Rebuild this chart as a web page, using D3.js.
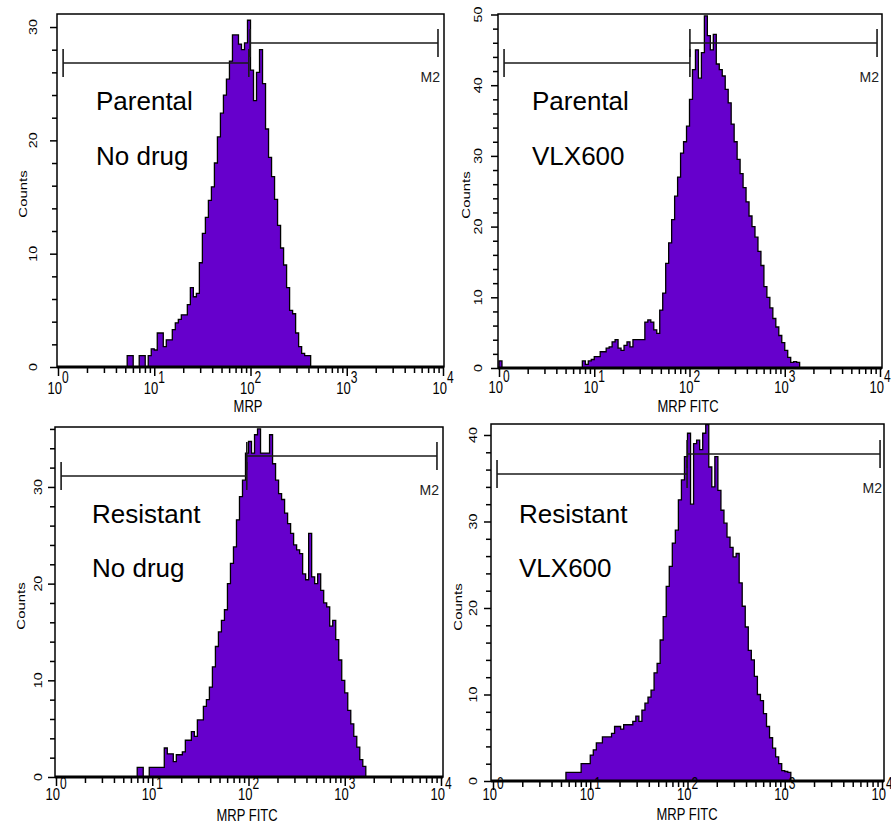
<!DOCTYPE html>
<html>
<head>
<meta charset="utf-8">
<script src="https://cdn.jsdelivr.net/npm/d3@7"></script>
<style>
  body { margin: 0; background: #fff; }
  svg { display: block; }
  text { font-family: Arial, "Liberation Sans", sans-serif; fill: #000; }
</style>
</head>
<body>
<div id="chart"></div>
<script>
// flow cytometry histograms, 32 channels per decade on a 10^0..10^4 log axis
var BINS_PER_DECADE = 32;
var decades = [0, 1, 2, 3, 4];

var titles = [["Parental", "No drug"], ["Parental", "VLX600"], ["Resistant", "No drug"], ["Resistant", "VLX600"]];
var xTitles = ["MRP", "MRP FITC", "MRP FITC", "MRP FITC"];
var yMaxTick = [30, 50, 30, 40];

// first channel index of each counts array
var firstBin = [23, 0, 27, 24];

var counts1 = [1, 1, 0, 0, 1, 1, 0, 1, 1.6, 1.5, 3, 3, 1.8, 2.4, 2.4, 3.3, 3.9, 4.2, 4.6, 4.6,
  5.5, 7, 6.2, 6.5, 9.2, 11.8, 13.2, 14.7, 15.9, 18, 20.3, 22.4, 24, 25.4, 27, 29.3, 29.3, 28.5,
  28, 28.6, 30.6, 26.2, 23.5, 26, 28, 25, 21, 18.5, 16.8, 14.8, 12.5, 10.5, 9, 7, 5, 4.7, 3,
  1.8, 1.2, 1, 1];

var counts2 = [1, 0, 0, 0, 0, 0, 0, 0, 0, 0, 0, 0, 0, 0, 0, 0, 0, 0, 0, 0, 0, 0, 0, 0, 0, 0, 0, 0,
  1, 0.5, 1, 1.2, 1.6, 1.6, 2.3, 2.3, 2.8, 3, 3.7, 4, 2.8, 2.5, 3.2, 3.7, 3, 4, 4, 4, 4, 6.5,
  6.8, 6.5, 5.4, 4.9, 8.2, 10.6, 14.8, 17.7, 21, 24.3, 27, 30.4, 32, 34.2, 38, 42.2, 45, 41,
  44.6, 49.8, 47, 45, 47.2, 43, 42.2, 41.3, 39.4, 37.5, 34.5, 32, 29.5, 27.5, 25.5, 23.5, 21.5,
  20, 18.5, 16.5, 14.5, 11.5, 10, 8.5, 7, 5.8, 4.6, 3.6, 2.5, 1.5, 0.8, 0.9, 0.8];

var counts3 = [1, 1, 0, 0, 1, 1, 1, 1, 1, 3, 2.4, 2.4, 1.6, 2.3, 2.3, 2.6, 3.8, 3.8, 4.7, 4.2,
  5.9, 5.9, 7.3, 8, 9.3, 11.4, 13.5, 15, 16.2, 17.3, 20, 22.1, 23.8, 26.6, 29, 30.7, 33.5,
  34.7, 33.5, 35.4, 36, 33.5, 33.5, 33.5, 35.4, 32.4, 30.7, 29.3, 28.7, 27.3, 26.2, 25.2, 24,
  23.5, 23.1, 21, 20.4, 25.2, 20.7, 20, 21, 19.3, 18, 17.6, 15.6, 16.2, 14.2, 12.1, 10, 8.7,
  6.9, 5.5, 4.2, 3.1, 1.8, 1.1];

var counts4 = [1, 1, 1, 1, 1, 2, 2, 2, 3, 3.6, 4.4, 4.4, 5.1, 5.1, 5.1, 5.5, 6.3, 6.3, 6, 6.5,
  6.5, 6.5, 6.9, 7.5, 6.9, 8.2, 9, 9.7, 10.5, 12.5, 13.6, 16.3, 19, 22.5, 24.8, 27.5, 29, 32.5,
  34.8, 37.5, 40.2, 32, 39, 39.4, 38.3, 40.2, 41.2, 36.3, 34, 37.5, 33.6, 31.3, 29.8, 28.2, 27,
  25.9, 26.3, 22.9, 20.2, 17.8, 15.1, 14, 12.1, 10, 9.3, 7.8, 6.3, 5, 3.8, 2.8, 2, 1.2, 1.1, 1];

var allCounts = [counts1, counts2, counts3, counts4];

// marker gates M1 / M2 (fluorescence values)
var gatesM1 = [[1.13, 96], [1.13, 101], [1.13, 96], [1.1, 99]];
var gatesM2 = [[99, 8870], [101, 9310], [96, 9080], [99, 9550]];

// panel placement on the page
var panels = [
  { x0: 58, x1: 443, y0: 367, top: 14, yTop: 31.15, boxL: 57, boxR: 444, yLab: 20, cx: 27, cy: 194,
    tickBase: 394, xtX: 248, xtY: 412, tX: 96, tY: [110, 165], m1: 63, m2: 43 },
  { x0: 499, x1: 880, y0: 368, top: 14, yTop: 50.07, boxL: 498, boxR: 882, yLab: 16, cx: 470, cy: 195,
    tickBase: 393, xtX: 688, xtY: 412, tX: 532, tY: [110, 165], m1: 63, m2: 43 },
  { x0: 56, x1: 441, y0: 777, top: 427, yTop: 36.2, boxL: 55, boxR: 443, yLab: 13, cx: 25, cy: 606,
    tickBase: 800, xtX: 247, xtY: 821, tX: 92, tY: [523, 577], m1: 476, m2: 456 },
  { x0: 493, x1: 882, y0: 781, top: 424, yTop: 41.27, boxL: 491, boxR: 884, yLab: 14, cx: 462, cy: 607,
    tickBase: 800, xtX: 687, xtY: 820, tX: 519, tY: [523, 577], m1: 474, m2: 454 }
];

var svg = d3.select("#chart").append("svg")
            .attr("width", 891)
            .attr("height", 825);

svg.append("rect").attr("width", 891).attr("height", 825).attr("fill", "#fff");

var xTickVals = [];
decades.slice(0, 4).forEach(function(d) {
    for (var m = 1; m < 10; m++) xTickVals.push(m * Math.pow(10, d));
});
xTickVals.push(1e4);

function isMajor(v) {
    return Math.abs(Math.log10(v) - Math.round(Math.log10(v))) < 1e-9;
}

panels.forEach(function(p, i) {
    var x = d3.scaleLog().domain([1, 1e4]).range([p.x0, p.x1]);
    var y = d3.scaleLinear().domain([0, p.yTop]).range([p.y0, p.top]);
    var g = svg.append("g");

    // histogram bins -> step outline
    var start = firstBin[i];
    var pts = [{ v: Math.pow(10, start / BINS_PER_DECADE), c: 0 }];
    allCounts[i].forEach(function(c, j) {
        pts.push({ v: Math.pow(10, (start + j) / BINS_PER_DECADE), c: c });
    });
    pts.push({ v: Math.pow(10, (start + allCounts[i].length) / BINS_PER_DECADE), c: 0 });

    var area = d3.area()
                 .x(function(d) { return x(d.v); })
                 .y0(y(0))
                 .y1(function(d) { return y(d.c); })
                 .curve(d3.curveStepAfter);
    var line = d3.line()
                 .x(function(d) { return x(d.v); })
                 .y(function(d) { return y(d.c); })
                 .curve(d3.curveStepAfter);

    g.append("path").datum(pts).attr("d", area).attr("fill", "#6600cc");
    g.append("path").datum(pts).attr("d", line)
     .attr("fill", "none").attr("stroke", "#000").attr("stroke-width", 1.3);

    // frame
    g.append("rect")
     .attr("x", p.boxL).attr("y", p.top)
     .attr("width", p.boxR - p.boxL).attr("height", p.y0 - p.top)
     .attr("fill", "none").attr("stroke", "#000").attr("stroke-width", 1.5);
    g.append("line")
     .attr("x1", p.boxL).attr("x2", p.boxR).attr("y1", p.y0).attr("y2", p.y0)
     .attr("stroke", "#000").attr("stroke-width", 3);

    // x axis ticks
    var xAxis = g.append("g")
                 .attr("transform", "translate(0," + (p.y0 + 1) + ")")
                 .call(d3.axisBottom(x).tickValues(xTickVals).tickSize(5).tickSizeOuter(0).tickFormat(""));
    xAxis.select(".domain").remove();
    xAxis.selectAll(".tick line")
         .attr("stroke-width", 1.5)
         .attr("y2", function(d) { return isMajor(d) ? 8 : 5; });

    decades.forEach(function(d) {
        var t = g.append("text")
                 .attr("transform", "translate(" + x(Math.pow(10, d)) + "," + p.tickBase + ") scale(1,1.3)")
                 .attr("text-anchor", "middle")
                 .style("font-size", "13px");
        t.append("tspan").text("10");
        t.append("tspan").attr("dy", -8.5).style("font-size", "12px").text(d);
    });

    g.append("text")
     .attr("transform", "translate(" + p.xtX + "," + p.xtY + ") scale(1,1.25)")
     .attr("text-anchor", "middle")
     .style("font-size", "13px")
     .text(xTitles[i]);

    // y axis ticks
    var yAxis = g.append("g")
                 .attr("transform", "translate(" + p.boxL + ",0)")
                 .call(d3.axisLeft(y).tickValues(d3.range(0, p.yTop, 2)).tickSize(5).tickSizeOuter(0).tickFormat(""));
    yAxis.select(".domain").remove();
    yAxis.selectAll(".tick line")
         .attr("stroke-width", 1.5)
         .attr("x2", function(d) { return d % 10 === 0 ? -7 : -5; });

    d3.range(0, yMaxTick[i] + 1, 10).forEach(function(v) {
        g.append("text")
         .attr("transform", "translate(" + (p.boxL - p.yLab) + "," + y(v) + ") scale(1,1.3) rotate(-90)")
         .attr("text-anchor", "middle")
         .style("font-size", "11px")
         .text(v);
    });

    g.append("text")
     .attr("transform", "translate(" + p.cx + "," + p.cy + ") scale(1,1.3) rotate(-90)")
     .attr("text-anchor", "middle")
     .style("font-size", "11.5px")
     .text("Counts");

    // markers
    function marker(gate, yPos) {
        var a = x(gate[0]), b = x(gate[1]);
        var mg = g.append("g").attr("stroke", "#1a1a1a").attr("stroke-width", 1.6);
        mg.append("line").attr("x1", a).attr("x2", b).attr("y1", yPos).attr("y2", yPos);
        mg.append("line").attr("x1", a).attr("x2", a).attr("y1", yPos - 14).attr("y2", yPos + 14);
        mg.append("line").attr("x1", b).attr("x2", b).attr("y1", yPos - 14).attr("y2", yPos + 14);
    }
    marker(gatesM1[i], p.m1);
    marker(gatesM2[i], p.m2);

    g.append("text")
     .attr("x", x(gatesM2[i][1]) + 2)
     .attr("y", p.m2 + 39)
     .attr("text-anchor", "end")
     .style("font-size", "14px")
     .style("fill", "#222")
     .text("M2");

    // sample labels
    titles[i].forEach(function(s, k) {
        g.append("text")
         .attr("x", p.tX)
         .attr("y", p.tY[k])
         .style("font-size", "26px")
         .text(s);
    });
});
</script>
</body>
</html>
